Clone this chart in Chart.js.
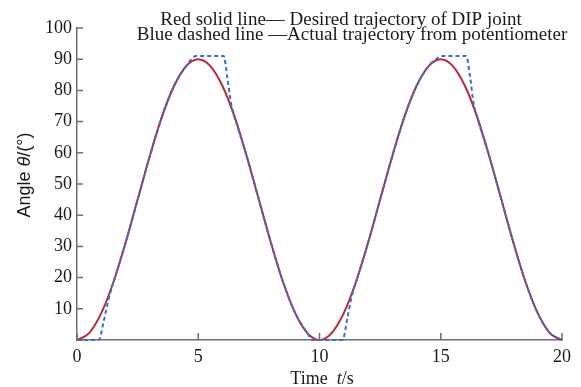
<!DOCTYPE html>
<html>
<head>
<meta charset="utf-8">
<script src="https://cdn.jsdelivr.net/npm/chart.js@4/dist/chart.umd.min.js"></script>
<style>
html,body{margin:0;padding:0;background:#fff;}
canvas{display:block;}
</style>
</head>
<body>
<canvas id="c" width="581" height="387"></canvas>
<script>
// Desired trajectory (red solid)
const timeRed = [0,0.5,1,1.5,2,2.5,3,3.5,4,4.5,5,5.5,6,6.5,7,7.5,8,8.5,9,9.5,10,10.5,11,11.5,12,12.5,13,13.5,14,14.5,15,15.5,16,16.5,17,17.5,18,18.5,19,19.5,20];
const angleRed = [0,2.2,8.6,18.5,31.1,45,58.9,71.5,81.4,87.8,90,87.8,81.4,71.5,58.9,45,31.1,18.5,8.6,2.2,0,2.2,8.6,18.5,31.1,45,58.9,71.5,81.4,87.8,90,87.8,81.4,71.5,58.9,45,31.1,18.5,8.6,2.2,0];
// Actual trajectory from potentiometer (blue dashed)
const timeBlue = [0,0.9,1.1,1.3,1.5,2,2.5,3,3.5,4,4.5,4.75,4.9,6.05,6.2,6.35,6.5,7,7.5,8,8.5,9,9.5,9.7,10.95,11.15,11.3,11.5,12,12.5,13,13.5,14,14.5,14.8,15.1,16.05,16.2,16.35,16.5,17,17.5,18,18.5,19,19.5,19.75,20];
const angleBlue = [0,0,6,13,18.5,31.1,45,58.9,71.5,81.4,87.8,90.3,91,91,84,76,71.5,58.9,45,31.1,18.5,8.6,2.2,0,0,7,13,18.5,31.1,45,58.9,71.5,81.4,87.8,90,91,91,85,76,71.5,58.9,45,31.1,18.5,8.6,2.2,0.8,0];
// Tick values and text
const xTicks = [0,5,10,15,20];
const yTicks = [0,10,20,30,40,50,60,70,80,90,100];
const titleLines = ['Red solid line\u2014 Desired trajectory of DIP joint', 'Blue dashed line \u2014Actual trajectory from potentiometer'];

const axisColor = '#6e6e6e';
const textColor = '#1a1a1a';
const serif = '"Liberation Serif", "Times New Roman", serif';
const sans = '"Liberation Sans", Arial, sans-serif';

const toPoints = (xs, ys) => xs.map((x, i) => ({x: x, y: ys[i]}));

function drawMixed(ctx, parts, cx, cy) {
  let total = 0;
  parts.forEach(p => { ctx.font = p[1]; total += ctx.measureText(p[0]).width; });
  let x = cx - total / 2;
  ctx.textAlign = 'left';
  parts.forEach(p => { ctx.font = p[1]; ctx.fillText(p[0], x, cy); x += ctx.measureText(p[0]).width; });
}

const overlay = {
  id: 'overlay',
  afterDatasetsDraw(chart) {
    const ctx = chart.ctx, a = chart.chartArea;
    const xs = chart.scales.x, ys = chart.scales.y;
    ctx.save();
    ctx.strokeStyle = axisColor;
    ctx.lineWidth = 1.5;
    ctx.beginPath();
    xs.ticks.forEach((t, i) => { const px = xs.getPixelForTick(i); ctx.moveTo(px, a.bottom); ctx.lineTo(px, a.bottom - 7); });
    ys.ticks.forEach((t, i) => { const py = ys.getPixelForTick(i); ctx.moveTo(a.left, py); ctx.lineTo(a.left + 6, py); });
    ctx.stroke();
    ctx.restore();
  },
  afterDraw(chart) {
    const ctx = chart.ctx;
    ctx.save();
    ctx.fillStyle = textColor;
    ctx.textBaseline = 'alphabetic';
    ctx.textAlign = 'center';
    ctx.font = '19px ' + serif;
    ctx.fillText(titleLines[0], 341, 25);
    ctx.fillText(titleLines[1], 352, 40);
    drawMixed(ctx, [['Time  ', '18px ' + serif], ['t', 'italic 18px ' + serif], ['/s', '18px ' + serif]], 322, 384);
    ctx.translate(30, 175);
    ctx.rotate(-Math.PI / 2);
    drawMixed(ctx, [['Angle ', '18px ' + sans], ['\u03b8', 'italic 18px ' + sans], ['/(\u00b0)', '18px ' + sans]], 0, 0);
    ctx.restore();
  }
};

new Chart(document.getElementById('c'), {
  type: 'line',
  data: {
    datasets: [
      {
        label: 'Desired trajectory of DIP joint',
        data: toPoints(timeRed, angleRed),
        borderColor: '#b52b3b',
        borderWidth: 2,
        pointRadius: 0,
        cubicInterpolationMode: 'monotone',
        fill: false,
        clip: 6,
        order: 2
      },
      {
        label: 'Actual trajectory from potentiometer',
        data: toPoints(timeBlue, angleBlue),
        borderColor: '#3b6fc6',
        borderWidth: 2,
        borderDash: [4, 3],
        pointRadius: 0,
        cubicInterpolationMode: 'monotone',
        fill: false,
        clip: 6,
        order: 1
      }
    ]
  },
  options: {
    responsive: false,
    animation: false,
    layout: { padding: { left: 0, top: 28, right: 19, bottom: 0 } },
    plugins: { legend: { display: false }, tooltip: { enabled: false }, title: { display: false } },
    scales: {
      x: {
        type: 'linear',
        min: 0, max: 20,
        afterBuildTicks: s => { s.ticks = xTicks.map(v => ({value: v})); },
        afterFit: s => { s.height = 47; },
        grid: { display: false, drawTicks: false },
        border: { display: true, color: axisColor, width: 1.5 },
        ticks: { color: textColor, font: { family: serif, size: 18 }, padding: 6, maxRotation: 0 }
      },
      y: {
        type: 'linear',
        min: 0, max: 100,
        afterBuildTicks: s => { s.ticks = yTicks.map(v => ({value: v})); },
        afterFit: s => { s.width = 77; },
        grid: { display: false, drawTicks: false },
        border: { display: true, color: axisColor, width: 1.5 },
        ticks: { color: textColor, font: { family: serif, size: 18 }, padding: 5, callback: v => (v === 0 ? '' : String(v)) }
      }
    }
  },
  plugins: [overlay]
});
</script>
</body>
</html>
